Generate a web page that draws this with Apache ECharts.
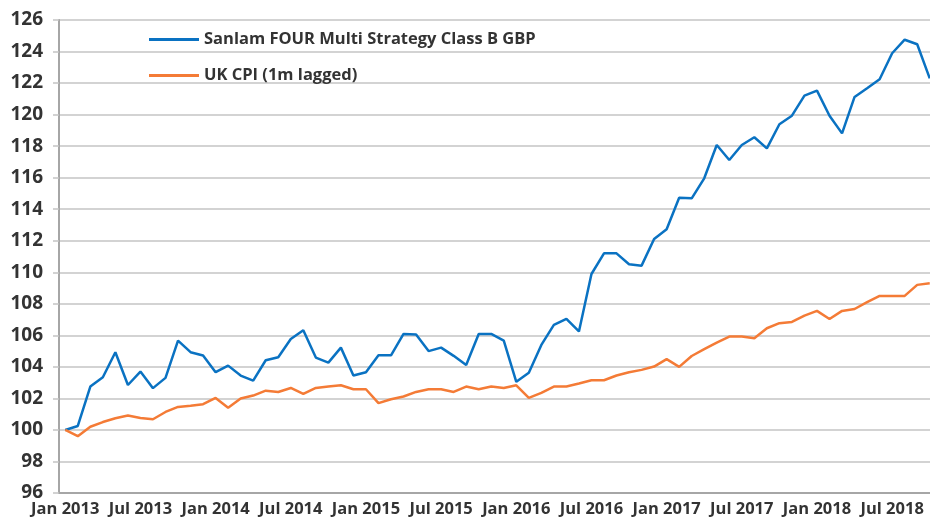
<!DOCTYPE html>
<html>
<head>
<meta charset="utf-8">
<script src="https://cdn.jsdelivr.net/npm/echarts@6/dist/echarts.min.js"></script>
<style>
  html, body { margin: 0; padding: 0; background: #fff; overflow: hidden; }
  /* the plot runs a few pixels past the right edge of the window, as in the original */
  #chart { width: 940px; height: 519px; }
</style>
</head>
<body>
<div id="chart"></div>
<script>
// monthly points, Jan 2013 .. Oct 2018
const monthNames = ['Jan', 'Feb', 'Mar', 'Apr', 'May', 'Jun', 'Jul', 'Aug', 'Sep', 'Oct', 'Nov', 'Dec']
const years = [2013, 2014, 2015, 2016, 2017, 2018]
const monthCount = 70

const sanlam = [
  100.0, 100.25, 102.75, 103.34, 104.93, 102.85, 103.7, 102.65, 103.3, 105.66,
  104.93, 104.72, 103.66, 104.08, 103.45, 103.13, 104.42, 104.61, 105.77, 106.32,
  104.59, 104.27, 105.22, 103.45, 103.66, 104.73, 104.73, 106.09, 106.05, 105.0,
  105.22, 104.7, 104.12, 106.09, 106.09, 105.66, 103.05, 103.62, 105.39, 106.66,
  107.04, 106.25, 109.89, 111.2, 111.2, 110.51, 110.42, 112.11, 112.73, 114.73,
  114.69, 115.96, 118.07, 117.12, 118.07, 118.56, 117.86, 119.39, 119.93, 121.2,
  121.52, 119.93, 118.81, 121.12, 121.67, 122.24, 123.89, 124.75, 124.46, 122.3
]

const ukCpi = [
  100.0, 99.6, 100.2, 100.5, 100.74, 100.91, 100.76, 100.68, 101.14, 101.46,
  101.54, 101.63, 102.03, 101.41, 101.99, 102.18, 102.49, 102.41, 102.66, 102.28,
  102.66, 102.75, 102.83, 102.58, 102.58, 101.7, 101.95, 102.12, 102.41, 102.58,
  102.58, 102.41, 102.75, 102.58, 102.75, 102.66, 102.83, 102.03, 102.35, 102.75,
  102.75, 102.94, 103.15, 103.15, 103.45, 103.66, 103.81, 104.02, 104.49, 104.0,
  104.69, 105.12, 105.54, 105.92, 105.92, 105.82, 106.45, 106.77, 106.85, 107.25,
  107.55, 107.04, 107.55, 107.67, 108.1, 108.5, 108.5, 108.5, 109.2, 109.3
]

let months = []
years.forEach((y) => {
  monthNames.forEach((m) => {
    if (months.length < monthCount) months.push(m + ' ' + y)
  })
})

const textColor = '#333333'
const fontFamily = '"Open Sans", sans-serif'

const chart = echarts.init(document.getElementById('chart'), null, { renderer: 'canvas' })

chart.setOption({
  backgroundColor: '#fff',
  animation: false,
  grid: {
    left: 59,
    top: 20,
    width: 877,
    height: 473,
    containLabel: false,
  },
  legend: {
    orient: 'vertical',
    left: 144,
    top: 26,
    itemWidth: 50,
    itemHeight: 3,
    itemGap: 19,
    icon: 'rect',
    selectedMode: false,
    textStyle: {
      color: textColor,
      fontFamily: fontFamily,
      fontWeight: 'bold',
      fontSize: 16.5,
    },
    data: ['Sanlam FOUR Multi Strategy Class B GBP', 'UK CPI (1m lagged)'],
  },
  xAxis: {
    type: 'category',
    data: months,
    boundaryGap: true,
    axisLine: { lineStyle: { color: '#a6a6a6', width: 2 } },
    axisTick: { interval: 5, length: 5, lineStyle: { color: '#a6a6a6', width: 1.5 } },
    axisLabel: {
      interval: 5,
      showMinLabel: true,
      hideOverlap: false,
      color: textColor,
      fontFamily: fontFamily,
      fontWeight: 'bold',
      fontSize: 16.5,
      margin: 8,
    },
    splitLine: { show: false },
  },
  yAxis: {
    type: 'value',
    min: 96,
    max: 126,
    interval: 2,
    axisLine: { show: true, lineStyle: { color: '#a6a6a6', width: 2 } },
    axisTick: { show: true, length: 6, lineStyle: { color: '#c4c4c4', width: 1.5 } },
    axisLabel: {
      showMinLabel: true,
      showMaxLabel: true,
      color: textColor,
      fontFamily: fontFamily,
      fontWeight: 'bold',
      fontSize: 19,
      margin: 16,
    },
    splitLine: { lineStyle: { color: '#c4c4c4', width: 1.5 } },
  },
  series: [
    {
      name: 'Sanlam FOUR Multi Strategy Class B GBP',
      type: 'line',
      data: sanlam,
      symbol: 'none',
      color: '#0a72c2',
      lineStyle: { width: 2.5, color: '#0a72c2' },
    },
    {
      name: 'UK CPI (1m lagged)',
      type: 'line',
      data: ukCpi,
      symbol: 'none',
      color: '#f47b36',
      lineStyle: { width: 2.5, color: '#f47b36' },
    },
  ],
})
</script>
</body>
</html>
